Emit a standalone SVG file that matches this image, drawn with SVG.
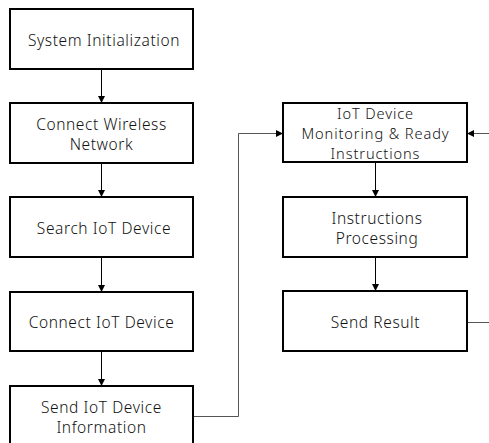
<svg xmlns="http://www.w3.org/2000/svg" width="489" height="443" viewBox="0 0 489 443">
<style>
.box{fill:#fff;stroke:#000;stroke-width:2}
.t{font-family:"Noto Sans","Noto Sans CJK KR",sans-serif;font-size:15.5px;font-weight:300;letter-spacing:0.6px;fill:#111;text-anchor:middle;dominant-baseline:central}
.s{font-size:14.6px;letter-spacing:0.9px}
.c{fill:none;stroke:#000;stroke-width:1}
.g{fill:none;stroke:#555;stroke-width:1}
</style>
<defs>
<marker id="ah" markerWidth="10" markerHeight="10" refX="7" refY="3.5" orient="auto" markerUnits="userSpaceOnUse">
<path d="M0,0 L7,3.5 L0,7 Z" fill="#000"/>
</marker>
</defs>
<rect width="489" height="443" fill="#fff"/>
<g id="connectors">
<line class="c" x1="101.5" y1="69" x2="101.5" y2="103" marker-end="url(#ah)"/>
<line class="c" x1="101.5" y1="163" x2="101.5" y2="197" marker-end="url(#ah)"/>
<line class="c" x1="101.5" y1="257" x2="101.5" y2="292" marker-end="url(#ah)"/>
<line class="c" x1="101.5" y1="351" x2="101.5" y2="386" marker-end="url(#ah)"/>
<polyline class="g" points="193,416.5 238.5,416.5 238.5,133.5 283,133.5" marker-end="url(#ah)"/>
<line class="c" x1="375.5" y1="162" x2="375.5" y2="197" marker-end="url(#ah)"/>
<line class="c" x1="375.5" y1="257" x2="375.5" y2="291" marker-end="url(#ah)"/>
<line class="g" x1="467" y1="322.5" x2="489" y2="322.5"/>
<line class="g" x1="489" y1="133.5" x2="467" y2="133.5" marker-end="url(#ah)"/>
</g>
<g id="n1"><rect class="box" x="10" y="9" width="183" height="60"/><text class="t" x="104" y="40">System Initialization</text></g>
<g id="n2"><rect class="box" x="10" y="103" width="183" height="60"/><text class="t" x="101.5" y="124">Connect Wireless</text><text class="t" x="101.5" y="144">Network</text></g>
<g id="n3"><rect class="box" x="10" y="197" width="183" height="60"/><text class="t" x="104" y="228">Search IoT Device</text></g>
<g id="n4"><rect class="box" x="10" y="292" width="183" height="59"/><text class="t" x="101.5" y="322">Connect IoT Device</text></g>
<g id="n5"><rect class="box" x="10" y="386" width="183" height="62"/><text class="t" x="101.5" y="407">Send IoT Device</text><text class="t" x="101.5" y="427">Information</text></g>
<g id="n6"><rect class="box" x="283" y="103" width="184" height="59"/><text class="t s" x="375.5" y="112.5">IoT Device</text><text class="t s" x="375.5" y="132.5">Monitoring &amp; Ready</text><text class="t s" x="375.5" y="152.5">Instructions</text></g>
<g id="n7"><rect class="box" x="283" y="197" width="184" height="60"/><text class="t" x="377" y="218">Instructions</text><text class="t" x="377" y="238">Processing</text></g>
<g id="n8"><rect class="box" x="283" y="291" width="184" height="60"/><text class="t" x="375.5" y="322">Send Result</text></g>
</svg>
